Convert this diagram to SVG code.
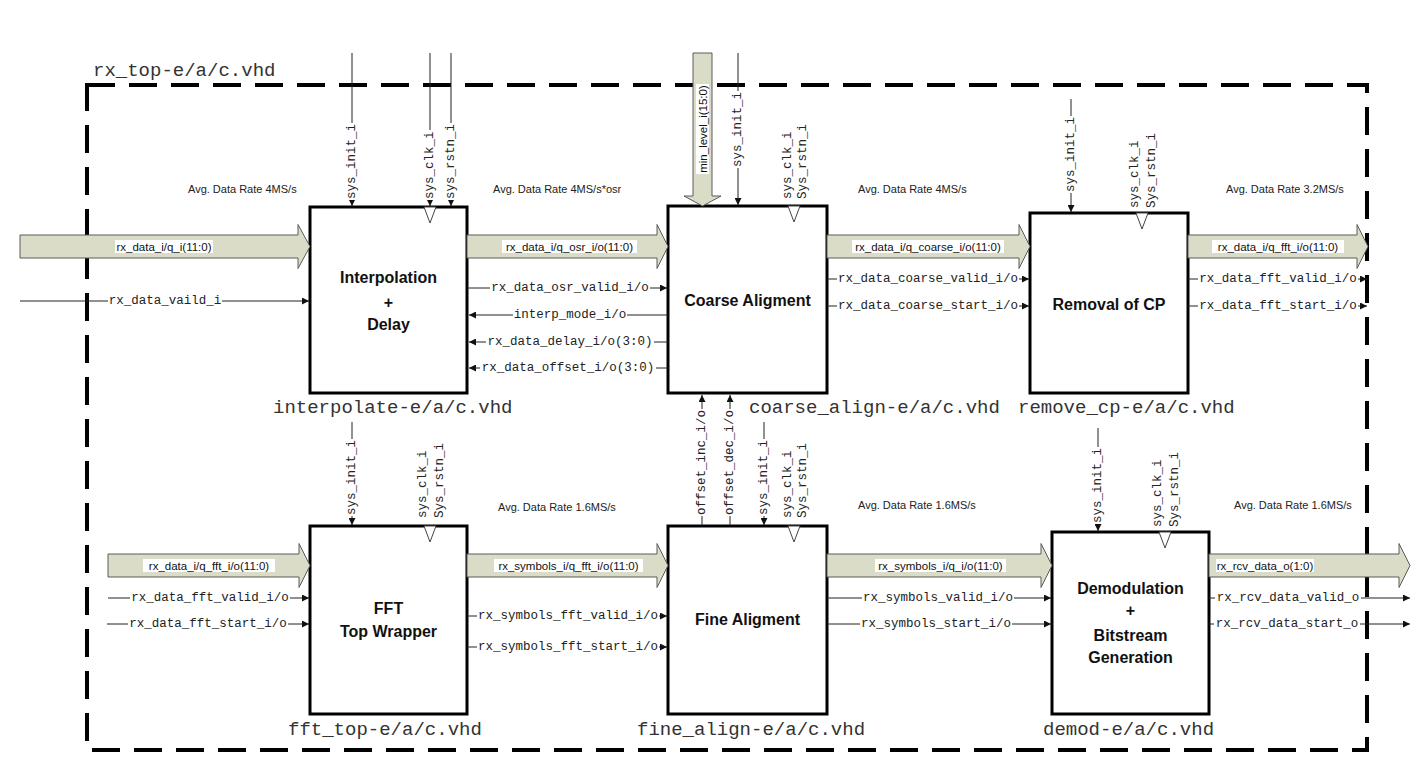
<svg xmlns="http://www.w3.org/2000/svg" width="1423" height="771" viewBox="0 0 1423 771">
<defs>
<marker id="ah" viewBox="0 0 10 10" refX="10" refY="5" markerWidth="8" markerHeight="7" markerUnits="userSpaceOnUse" orient="auto"><path d="M0,0 L10,5 L0,10 z" fill="#111"/></marker>
<style>
.blk{fill:#fff;stroke:#000;stroke-width:3}
.clk{fill:#fff;stroke:#444;stroke-width:1}
.ttl{font-family:"Liberation Sans",Arial,sans-serif;font-weight:bold;font-size:16px;fill:#111;text-anchor:middle}
.fn{font-family:"Liberation Mono","Courier New",monospace;font-size:19px;fill:#333}
.sig{font-family:"Liberation Mono","Courier New",monospace;font-size:12.5px;fill:#222;dominant-baseline:central}
.sigc{text-anchor:middle}
.bus{fill:#dadcc8;stroke:#5a5a5a;stroke-width:1}
.busl{font-family:"Liberation Sans",Arial,sans-serif;font-size:11.5px;fill:#111;text-anchor:middle;dominant-baseline:central}
.rate{font-family:"Liberation Sans",Arial,sans-serif;font-size:11px;fill:#222}
.ln{stroke:#222;stroke-width:1;fill:none}
.arr{marker-end:url(#ah)}
.bg{fill:#fff}
</style>
</defs>
<rect width="1423" height="771" fill="#fff"/>
<g id="rx_top">
<rect x="87" y="85" width="1280" height="665" fill="none" stroke="#000" stroke-width="4" stroke-dasharray="28 14"/>
<text class="fn" x="93" y="76">rx_top-e/a/c.vhd</text>
</g>

<g id="interpolate">
<rect class="blk" x="310" y="207" width="157" height="186"/>
<polygon class="clk" points="424,207 436,207 430,223"/>
<text class="ttl" x="388.5" y="283">Interpolation</text>
<text class="ttl" x="388.5" y="308">+</text>
<text class="ttl" x="388.5" y="330">Delay</text>
<text class="fn" x="273" y="413">interpolate-e/a/c.vhd</text>
</g>
<g id="coarse_align">
<rect class="blk" x="668" y="206" width="159" height="187"/>
<polygon class="clk" points="788,206 800,206 794,222"/>
<text class="ttl" x="747.5" y="306">Coarse Aligment</text>
<text class="fn" x="749" y="413">coarse_align-e/a/c.vhd</text>
</g>
<g id="remove_cp">
<rect class="blk" x="1030" y="213" width="158" height="180"/>
<polygon class="clk" points="1136,213 1148,213 1142,229"/>
<text class="ttl" x="1109" y="310">Removal of CP</text>
<text class="fn" x="1018" y="413">remove_cp-e/a/c.vhd</text>
</g>
<g id="fft_top">
<rect class="blk" x="310" y="526" width="157" height="188"/>
<polygon class="clk" points="424,526 436,526 430,542"/>
<text class="ttl" x="388.5" y="614">FFT</text>
<text class="ttl" x="388.5" y="637">Top Wrapper</text>
<text class="fn" x="288" y="735">fft_top-e/a/c.vhd</text>
</g>
<g id="fine_align">
<rect class="blk" x="668" y="526" width="159" height="188"/>
<polygon class="clk" points="788,526 800,526 794,542"/>
<text class="ttl" x="747.5" y="625">Fine Aligment</text>
<text class="fn" x="637" y="735">fine_align-e/a/c.vhd</text>
</g>
<g id="demod">
<rect class="blk" x="1052" y="532" width="157" height="182"/>
<polygon class="clk" points="1159,532 1171,532 1165,548"/>
<text class="ttl" x="1130.5" y="594">Demodulation</text>
<text class="ttl" x="1130.5" y="616">+</text>
<text class="ttl" x="1130.5" y="641">Bitstream</text>
<text class="ttl" x="1130.5" y="663">Generation</text>
<text class="fn" x="1043" y="735">demod-e/a/c.vhd</text>
</g>

<g id="connectors">
<!-- bus arrows -->
<polygon class="bus" points="20,235 298,235 298,224.5 310,246.5 298,268.5 298,258 20,258"/>
<polygon class="bus" points="467,235 657,235 657,224.5 668,246.5 657,268.5 657,258 467,258"/>
<polygon class="bus" points="827,235 1019,235 1019,224.5 1030,246.5 1019,268.5 1019,258 827,258"/>
<polygon class="bus" points="1188,235 1357,235 1357,224.5 1368,246.5 1357,268.5 1357,258 1188,258"/>
<polygon class="bus" points="108,554 299,554 299,543.5 310,565.5 299,587.5 299,577 108,577"/>
<polygon class="bus" points="467,554 657,554 657,543.5 668,565.5 657,587.5 657,577 467,577"/>
<polygon class="bus" points="827,554 1041,554 1041,543.5 1052,565.5 1041,587.5 1041,577 827,577"/>
<polygon class="bus" points="1209,554 1399,554 1399,543.5 1410,565.5 1399,587.5 1399,577 1209,577"/>
<polygon class="bus" points="693,53 712,53 712,196 721,196 702.5,206 684,196 693,196"/>

<rect class="bg" x="115" y="240" width="98" height="13"/><text class="busl" x="164" y="247">rx_data_i/q_i(11:0)</text>
<rect class="bg" x="502" y="240" width="135" height="13"/><text class="busl" x="569.5" y="247">rx_data_i/q_osr_i/o(11:0)</text>
<rect class="bg" x="852" y="240" width="152" height="13"/><text class="busl" x="928" y="247">rx_data_i/q_coarse_i/o(11:0)</text>
<rect class="bg" x="1212" y="240" width="132" height="13"/><text class="busl" x="1278" y="247">rx_data_i/q_fft_i/o(11:0)</text>
<rect class="bg" x="143" y="559" width="132" height="13"/><text class="busl" x="209" y="565.5">rx_data_i/q_fft_i/o(11:0)</text>
<rect class="bg" x="494" y="559" width="149" height="13"/><text class="busl" x="568.5" y="565.5">rx_symbols_i/q_fft_i/o(11:0)</text>
<rect class="bg" x="875" y="559" width="131" height="13"/><text class="busl" x="940.5" y="565.5">rx_symbols_i/q_i/o(11:0)</text>
<rect class="bg" x="1216" y="559" width="98" height="13"/><text class="busl" x="1265" y="565.5">rx_rcv_data_o(1:0)</text>
<rect class="bg" x="696" y="84" width="13" height="90"/><text class="busl" transform="rotate(-90 702.5 129)" x="702.5" y="129">min_level_i(15:0)</text>

<!-- horizontal signal lines -->
<line class="ln arr" x1="20" y1="301" x2="309" y2="301"/>
<line class="ln arr" x1="467" y1="288" x2="667" y2="288"/>
<line class="ln arr" x1="668" y1="315" x2="469" y2="315"/>
<line class="ln arr" x1="668" y1="342" x2="469" y2="342"/>
<line class="ln arr" x1="668" y1="368" x2="469" y2="368"/>
<line class="ln arr" x1="827" y1="279" x2="1029" y2="279"/>
<line class="ln arr" x1="827" y1="306" x2="1029" y2="306"/>
<line class="ln arr" x1="1188" y1="279" x2="1367" y2="279"/>
<line class="ln arr" x1="1188" y1="306" x2="1367" y2="306"/>
<line class="ln arr" x1="108" y1="598" x2="309" y2="598"/>
<line class="ln arr" x1="107" y1="624" x2="309" y2="624"/>
<line class="ln arr" x1="467" y1="616" x2="667" y2="616"/>
<line class="ln arr" x1="467" y1="647" x2="667" y2="647"/>
<line class="ln arr" x1="827" y1="598" x2="1051" y2="598"/>
<line class="ln arr" x1="827" y1="624" x2="1051" y2="624"/>
<line class="ln arr" x1="1209" y1="598" x2="1410" y2="598"/>
<line class="ln arr" x1="1209" y1="624" x2="1410" y2="624"/>

<!-- vertical signal lines -->
<line class="ln arr" x1="352" y1="53" x2="352" y2="206"/>
<line class="ln arr" x1="430" y1="53" x2="430" y2="206"/>
<line class="ln arr" x1="451" y1="53" x2="451" y2="206"/>
<line class="ln arr" x1="738" y1="53" x2="738" y2="205"/>
<line class="ln arr" x1="1071" y1="99" x2="1071" y2="212"/>
<line class="ln arr" x1="352" y1="422" x2="352" y2="525"/>
<line class="ln arr" x1="764" y1="422" x2="764" y2="525"/>
<line class="ln arr" x1="1098" y1="428" x2="1098" y2="531"/>
<line class="ln arr" x1="702" y1="526" x2="702" y2="395"/>
<line class="ln arr" x1="730" y1="526" x2="730" y2="395"/>

<!-- horizontal labels -->
<rect class="bg" x="108" y="294" width="114" height="14"/><text class="sig sigc" x="165" y="301">rx_data_vaild_i</text>
<rect class="bg" x="490" y="281" width="160" height="14"/><text class="sig sigc" x="570" y="288">rx_data_osr_valid_i/o</text>
<rect class="bg" x="513" y="308" width="114" height="14"/><text class="sig sigc" x="570" y="315">interp_mode_i/o</text>
<rect class="bg" x="486" y="335" width="168" height="14"/><text class="sig sigc" x="570" y="342">rx_data_delay_i/o(3:0)</text>
<rect class="bg" x="480" y="361" width="176" height="14"/><text class="sig sigc" x="568" y="368">rx_data_offset_i/o(3:0)</text>
<rect class="bg" x="837" y="272" width="182" height="14"/><text class="sig sigc" x="928" y="279">rx_data_coarse_valid_i/o</text>
<rect class="bg" x="837" y="299" width="182" height="14"/><text class="sig sigc" x="928" y="306">rx_data_coarse_start_i/o</text>
<rect class="bg" x="1198" y="272" width="160" height="14"/><text class="sig sigc" x="1278" y="279">rx_data_fft_valid_i/o</text>
<rect class="bg" x="1198" y="299" width="160" height="14"/><text class="sig sigc" x="1278" y="306">rx_data_fft_start_i/o</text>
<rect class="bg" x="130" y="591" width="160" height="14"/><text class="sig sigc" x="210" y="598">rx_data_fft_valid_i/o</text>
<rect class="bg" x="128" y="617" width="160" height="14"/><text class="sig sigc" x="208" y="624">rx_data_fft_start_i/o</text>
<rect class="bg" x="477" y="609" width="182" height="14"/><text class="sig sigc" x="568" y="616">rx_symbols_fft_valid_i/o</text>
<rect class="bg" x="477" y="640" width="182" height="14"/><text class="sig sigc" x="568" y="647">rx_symbols_fft_start_i/o</text>
<rect class="bg" x="862" y="591" width="152" height="14"/><text class="sig sigc" x="938" y="598">rx_symbols_valid_i/o</text>
<rect class="bg" x="860" y="617" width="152" height="14"/><text class="sig sigc" x="936" y="624">rx_symbols_start_i/o</text>
<rect class="bg" x="1215" y="591" width="146" height="14"/><text class="sig sigc" x="1288" y="598">rx_rcv_data_valid_o</text>
<rect class="bg" x="1214" y="617" width="146" height="14"/><text class="sig sigc" x="1287" y="624">rx_rcv_data_start_o</text>

<!-- vertical labels -->
<rect class="bg" x="345" y="123" width="14" height="77"/><text class="sig" transform="rotate(-90 352 199)" x="352" y="199">sys_init_i</text>
<rect class="bg" x="423" y="130" width="14" height="70"/><text class="sig" transform="rotate(-90 430 199)" x="430" y="199">sys_clk_i</text>
<rect class="bg" x="444" y="123" width="14" height="77"/><text class="sig" transform="rotate(-90 451 199)" x="451" y="199">sys_rstn_i</text>
<rect class="bg" x="731" y="91" width="14" height="77"/><text class="sig" transform="rotate(-90 738 167)" x="738" y="167">sys_init_i</text>
<text class="sig" transform="rotate(-90 788 199)" x="788" y="199">sys_clk_i</text>
<text class="sig" transform="rotate(-90 803 199)" x="803" y="199">Sys_rstn_i</text>
<rect class="bg" x="1064" y="116" width="14" height="77"/><text class="sig" transform="rotate(-90 1071 192)" x="1071" y="192">sys_init_i</text>
<text class="sig" transform="rotate(-90 1135 208)" x="1135" y="208">sys_clk_i</text>
<text class="sig" transform="rotate(-90 1152 208)" x="1152" y="208">Sys_rstn_i</text>

<rect class="bg" x="345" y="439" width="14" height="77"/><text class="sig" transform="rotate(-90 352 515)" x="352" y="515">sys_init_i</text>
<text class="sig" transform="rotate(-90 423 518)" x="423" y="518">sys_clk_i</text>
<text class="sig" transform="rotate(-90 440 518)" x="440" y="518">Sys_rstn_i</text>
<rect class="bg" x="695" y="409" width="14" height="107"/><text class="sig" transform="rotate(-90 702 515)" x="702" y="515">offset_inc_i/o</text>
<rect class="bg" x="723" y="409" width="14" height="107"/><text class="sig" transform="rotate(-90 730 515)" x="730" y="515">offset_dec_i/o</text>
<rect class="bg" x="757" y="439" width="14" height="77"/><text class="sig" transform="rotate(-90 764 515)" x="764" y="515">sys_init_i</text>
<text class="sig" transform="rotate(-90 788 518)" x="788" y="518">sys_clk_i</text>
<text class="sig" transform="rotate(-90 803 518)" x="803" y="518">Sys_rstn_i</text>
<rect class="bg" x="1091" y="447" width="14" height="77"/><text class="sig" transform="rotate(-90 1098 523)" x="1098" y="523">sys_init_i</text>
<text class="sig" transform="rotate(-90 1158 527)" x="1158" y="527">sys_clk_i</text>
<text class="sig" transform="rotate(-90 1175 527)" x="1175" y="527">Sys_rstn_i</text>

<!-- data rate labels -->
<text class="rate" x="188" y="193">Avg. Data Rate 4MS/s</text>
<text class="rate" x="493" y="193">Avg. Data Rate 4MS/s*osr</text>
<text class="rate" x="858" y="193">Avg. Data Rate 4MS/s</text>
<text class="rate" x="1226" y="193">Avg. Data Rate 3.2MS/s</text>
<text class="rate" x="498" y="511">Avg. Data Rate 1.6MS/s</text>
<text class="rate" x="858" y="509">Avg. Data Rate 1.6MS/s</text>
<text class="rate" x="1234" y="509">Avg. Data Rate 1.6MS/s</text>
</g>
</svg>
